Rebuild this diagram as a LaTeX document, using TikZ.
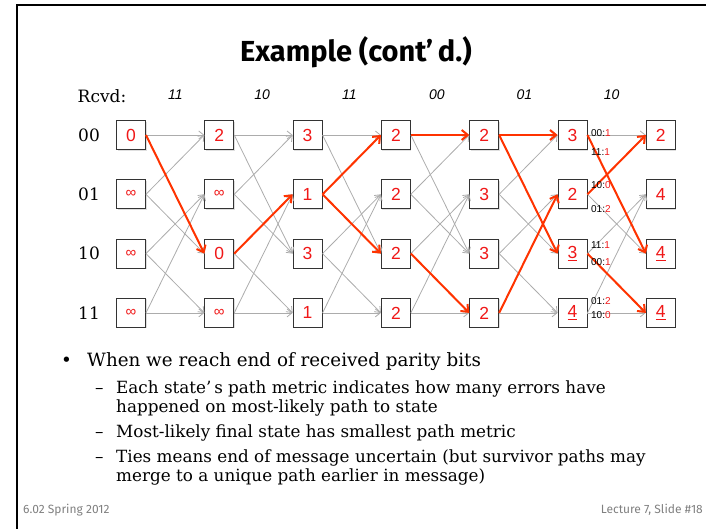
\documentclass[tikz,border=0pt]{standalone}
\usepackage{fontspec}
\setmainfont{DejaVu Serif}
\setsansfont{Liberation Sans}
\newfontfamily\headfont{Fira Sans}
\usepackage{xcolor}
\usepackage{tikz}
\usetikzlibrary{arrows.meta,positioning,shadows}
\definecolor{numred}{RGB}{240,24,24}
\definecolor{pathred}{RGB}{255,51,0}
\definecolor{edgegray}{RGB}{172,172,172}
\definecolor{footgray}{RGB}{128,128,128}
\newcommand{\infmark}{{\fontsize{15}{15}\selectfont ∞}}

\begin{document}
\begin{tikzpicture}[
  x=1pt, y=1pt,
  node distance=29.4pt and 58.4pt,
  pm/.style={draw=black!80, line width=0.9pt, fill=white, minimum size=29pt, inner sep=0pt,
    text=numred, font=\sffamily\fontsize{17.5}{17.5}\selectfont,
    drop shadow={shadow xshift=1pt, shadow yshift=-1pt, opacity=0.25}},
  edge/.style={-{Straight Barb[length=5pt,width=8pt]}, draw=edgegray, line width=0.8pt},
  surv/.style={-{Straight Barb[length=6pt,width=10pt]}, draw=pathred, line width=2pt},
  rowlab/.style={font=\fontsize{17}{17}\selectfont, inner sep=0pt},
  rx/.style={font=\sffamily\itshape\fontsize{14}{14}\selectfont},
  bm/.style={font=\sffamily\fontsize{10}{10}\selectfont, inner sep=0.5pt, anchor=west},
  txt/.style={font=\fontsize{18.3}{20}\selectfont, inner sep=0pt, anchor=base west},
  subtxt/.style={font=\fontsize{16.8}{19}\selectfont, inner sep=0pt, anchor=base west},
  foot/.style={font=\headfont\fontsize{12}{12}\selectfont, text=footgray, inner sep=0pt}
]
\useasboundingbox (0,0) rectangle (706,-528);
\clip (0,0) rectangle (706,-528);
\draw[line width=2pt] (17,-540) |- (720,-5);

\node[font=\headfont\bfseries\fontsize{29}{29}\selectfont] (head) at (356,-52) {Example (cont’\,d.)};

% trellis columns
\node[pm] (t0-00) at (131,-135) {0};
\node[pm, below=of t0-00] (t0-01) {\infmark};
\node[pm, below=of t0-01] (t0-10) {\infmark};
\node[pm, below=of t0-10] (t0-11) {\infmark};
\node[pm, right=of t0-00] (t1-00) {2};
\node[pm, right=of t0-01] (t1-01) {\infmark};
\node[pm, right=of t0-10] (t1-10) {0};
\node[pm, right=of t0-11] (t1-11) {\infmark};
\node[pm, right=of t1-00] (t2-00) {3};
\node[pm, right=of t1-01] (t2-01) {1};
\node[pm, right=of t1-10] (t2-10) {3};
\node[pm, right=of t1-11] (t2-11) {1};
\node[pm, right=of t2-00] (t3-00) {2};
\node[pm, right=of t2-01] (t3-01) {2};
\node[pm, right=of t2-10] (t3-10) {2};
\node[pm, right=of t2-11] (t3-11) {2};
\node[pm, right=of t3-00] (t4-00) {2};
\node[pm, right=of t3-01] (t4-01) {3};
\node[pm, right=of t3-10] (t4-10) {3};
\node[pm, right=of t3-11] (t4-11) {2};
\node[pm, right=of t4-00] (t5-00) {3};
\node[pm, right=of t4-01] (t5-01) {2};
\node[pm, right=of t4-10] (t5-10) {\underline{3}};
\node[pm, right=of t4-11] (t5-11) {\underline{4}};
\node[pm, right=of t5-00] (t6-00) {2};
\node[pm, right=of t5-01] (t6-01) {4};
\node[pm, right=of t5-10] (t6-10) {\underline{4}};
\node[pm, right=of t5-11] (t6-11) {\underline{4}};

\node[rowlab, left=16pt of t0-00] (s00) {00};
\node[rowlab, left=16pt of t0-01] (s01) {01};
\node[rowlab, left=16pt of t0-10] (s10) {10};
\node[rowlab, left=16pt of t0-11] (s11) {11};

\node[font=\fontsize{17}{17}\selectfont] (rcvd) at (102,-96) {Rcvd:};
\node[rx] (r1) at (175.5,-95) {11};
\node[rx] (r2) at (262.1,-95) {10};
\node[rx] (r3) at (349.5,-95) {11};
\node[rx] (r4) at (436.9,-95) {00};
\node[rx] (r5) at (524.3,-95) {01};
\node[rx] (r6) at (611.7,-95) {10};

\foreach \a/\b in {0/1,1/2,2/3,3/4,4/5,5/6} {
  \draw[edge] (t\a-00.east) -- (t\b-00.west);
  \draw[edge] (t\a-00.east) -- (t\b-10.west);
  \draw[edge] (t\a-01.east) -- (t\b-00.west);
  \draw[edge] (t\a-01.east) -- (t\b-10.west);
  \draw[edge] (t\a-10.east) -- (t\b-01.west);
  \draw[edge] (t\a-10.east) -- (t\b-11.west);
  \draw[edge] (t\a-11.east) -- (t\b-01.west);
  \draw[edge] (t\a-11.east) -- (t\b-11.west);
}

\draw[surv] (t0-00.east) -- (t1-10.west);
\draw[surv] (t1-10.east) -- (t2-01.west);
\draw[surv] (t2-01.east) -- (t3-00.west);
\draw[surv] (t2-01.east) -- (t3-10.west);
\draw[surv] (t3-00.east) -- (t4-00.west);
\draw[surv] (t3-10.east) -- (t4-11.west);
\draw[surv] (t4-00.east) -- (t5-00.west);
\draw[surv] (t4-00.east) -- (t5-10.west);
\draw[surv] (t4-11.east) -- (t5-01.west);
\draw[surv] (t5-00.east) -- (t6-10.west);
\draw[surv] (t5-01.east) -- (t6-00.west);
\draw[surv] (t5-10.east) -- (t6-11.west);

% branch metrics
\node[bm] (b00a) at ([xshift=3pt, yshift=2pt]t5-00.east) {00:\textcolor{numred}{1}};
\node[bm] (b00b) at ([xshift=3pt, yshift=-17pt]t5-00.east) {11:\textcolor{numred}{1}};
\node[bm] (b01a) at ([xshift=3pt, yshift=9.5pt]t5-01.east) {10:\textcolor{numred}{0}};
\node[bm] (b01b) at ([xshift=3pt, yshift=-14.5pt]t5-01.east) {01:\textcolor{numred}{2}};
\node[bm] (b10a) at ([xshift=3pt, yshift=9pt]t5-10.east) {11:\textcolor{numred}{1}};
\node[bm] (b10b) at ([xshift=3pt, yshift=-8pt]t5-10.east) {00:\textcolor{numred}{1}};
\node[bm] (b11a) at ([xshift=3pt, yshift=12pt]t5-11.east) {01:\textcolor{numred}{2}};
\node[bm] (b11b) at ([xshift=3pt, yshift=-2pt]t5-11.east) {10:\textcolor{numred}{0}};

% notes
\node[txt] (dot1) at (61,-366) {\textbullet};
\node[txt] (l1) at (87,-366) {When we reach end of received parity bits};
\node[subtxt] (dash1) at (95,-393) {–};
\node[subtxt] (l2) at (116,-393) {Each state’\,s path metric indicates how many errors have};
\node[subtxt] (l2b) at (116,-412) {happened on most-likely path to state};
\node[subtxt] (dash2) at (95,-437) {–};
\node[subtxt] (l3) at (116,-437) {Most-likely final state has smallest path metric};
\node[subtxt] (dash3) at (95,-462) {–};
\node[subtxt] (l4) at (116,-462) {Ties means end of message uncertain (but survivor paths may};
\node[subtxt] (l4b) at (116,-481) {merge to a unique path earlier in message)};

\node[foot, anchor=west] (fl) at (23,-510) {6.02 Spring 2012};
\node[foot, anchor=east] (fr) at (703,-510) {Lecture 7, Slide \#18};
\end{tikzpicture}
\end{document}
